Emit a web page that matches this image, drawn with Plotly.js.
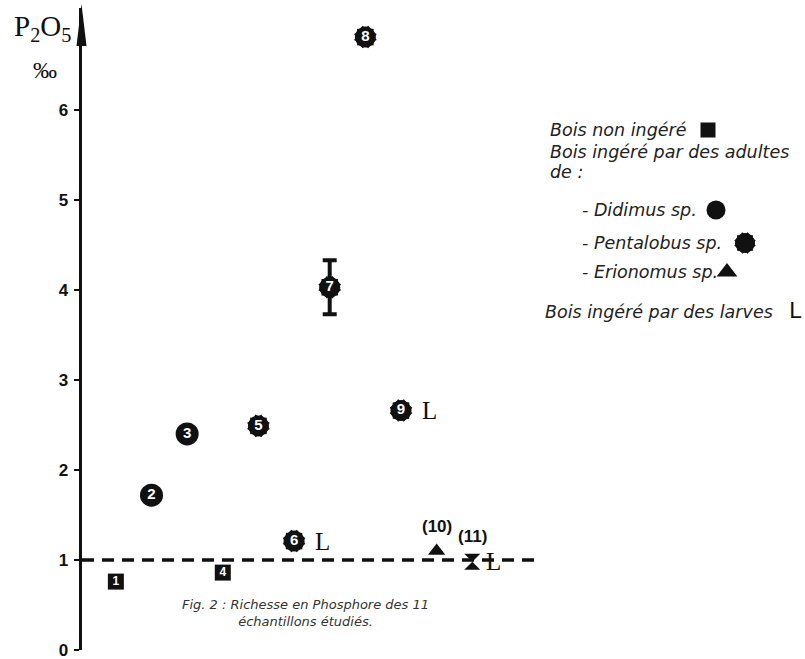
<!DOCTYPE html>
<html><head><meta charset="utf-8">
<script src="https://cdn.plot.ly/plotly-3.0.1.min.js"></script>
<style>html,body{margin:0;padding:0;background:#fff}</style>
</head><body><div id="chart" style="width:805px;height:659px"></div>
<script>
// ---- data ----
const samples = [1,2,3,4,5,6,7,8,9,10,11];
const p2o5 = [0.76,1.72,2.40,0.86,2.49,1.21,4.03,6.81,2.66,1.10,0.98];
const sampleGroup = ['bois','didimus','didimus','bois','pentalobus','pentalobus','pentalobus','pentalobus','pentalobus','erionomus','erionomus'];
const larvalSample = [false,false,false,false,false,true,false,false,true,false,true];
const errorPlusMinus = [0,0,0,0,0,0,0.30,0,0,0,0];
const sampleLabels = ['1','2','3','4','5','6','7','8','9','(10)','(11)'];
const yTicks = [0,1,2,3,4,5,6];
const referenceLevel = 1;
const legendText = ['Bois non ingéré','Bois ingéré par des adultes','de :','- Didimus sp.','- Pentalobus sp.','- Erionomus sp.','Bois ingéré par des larves'];
const legendKeyGroup = ['bois',null,null,'didimus','pentalobus','erionomus','larve'];
const captionText = 'Fig. 2 : Richesse en Phosphore des 11<br>échantillons étudiés.';

// ---- layout constants ----
const W = 805, H = 659;
const plotL = 82, plotR = 540, plotT = 8, plotB = 650;
const xRange = [0.05, 12.9], yRange = [0, 7.133];
const ink = '#111';
const handFont = 'DejaVu Sans, sans-serif';
const legendRowY = [130, 152, 172, 210, 243, 272, 312];
const legendTextX = [548, 548, 548, 580, 580, 580, 543];
const legendKeyX = [708, null, null, 716, 745, 727, 795];

const ids = f => samples.map((s,i)=>i).filter(f);
const pick = (arr, ii) => ii.map(i=>arr[i]);

function gear(xs, ys, xa, ya, k, extra) {
  const base = {type:'scatter', mode:'markers', x:xs, y:ys, xaxis:xa, yaxis:ya, hoverinfo:'skip', showlegend:false, cliponaxis:false};
  const t = [Object.assign({}, base, {marker:{symbol:'circle', size:21*k, color:ink, line:{width:0}}}, extra||{})];
  [0,30,60].forEach(a => t.push(Object.assign({}, base, {marker:{symbol:'square', size:16.5*k, angle:a, color:ink, line:{width:0}}})));
  return t;
}
function simple(xs, ys, xa, ya, symbol, size) {
  return {type:'scatter', mode:'markers', x:xs, y:ys, xaxis:xa, yaxis:ya, hoverinfo:'skip', showlegend:false, cliponaxis:false,
    marker:{symbol:symbol, size:size, color:ink, line:{width:0}}};
}

const traces = [];
const iBois = ids(i=>sampleGroup[i]==='bois');
const iDid = ids(i=>sampleGroup[i]==='didimus');
const iPen = ids(i=>sampleGroup[i]==='pentalobus');
const iEriA = ids(i=>sampleGroup[i]==='erionomus' && !larvalSample[i]);
const iEriL = ids(i=>sampleGroup[i]==='erionomus' && larvalSample[i]);

traces.push(simple(pick(samples,iBois), pick(p2o5,iBois), 'x', 'y', 'square', 16));
traces.push(simple(pick(samples,iDid), pick(p2o5,iDid), 'x', 'y', 'circle', 23));
traces.push(...gear(pick(samples,iPen), pick(p2o5,iPen), 'x', 'y', 1,
  {error_y:{type:'data', symmetric:true, array:pick(errorPlusMinus,iPen), visible:true, color:ink, thickness:4, width:7}}));
traces.push(simple(pick(samples,iEriA), pick(p2o5,iEriA), 'x', 'y', 'triangle-up', 15));
traces.push(simple(pick(samples,iEriL), pick(p2o5,iEriL), 'x', 'y', 'hourglass', 16));

// numbers inside markers
const iIn = ids(i=>!sampleLabels[i].startsWith('('));
traces.push({type:'scatter', mode:'text', x:pick(samples,iIn), y:pick(p2o5,iIn), text:pick(sampleLabels,iIn),
  textposition:'middle center', cliponaxis:false, hoverinfo:'skip', showlegend:false,
  textfont:{family:'Liberation Sans, Arial, sans-serif', color:'#fff', weight:'bold', size:iIn.map(i=>sampleGroup[i]==='bois'?12:15)}});

// legend
const annotations = [];
legendText.forEach((t,r) => {
  annotations.push({xref:'x2', yref:'y2', x:legendTextX[r], y:legendRowY[r], xanchor:'left', yanchor:'middle', showarrow:false,
    text:'<i>'+t+'</i>', font:{family:handFont, size:17.5, color:'#222'}});
  const g = legendKeyGroup[r];
  if (g==='bois') traces.push(simple([legendKeyX[r]],[legendRowY[r]],'x2','y2','square',15));
  if (g==='didimus') traces.push(simple([legendKeyX[r]],[legendRowY[r]],'x2','y2','circle',19));
  if (g==='pentalobus') traces.push(...gear([legendKeyX[r]],[legendRowY[r]],'x2','y2',0.95));
  if (g==='erionomus') traces.push(simple([legendKeyX[r]],[legendRowY[r]],'x2','y2','triangle-up',18));
  if (g==='larve') annotations.push({xref:'x2', yref:'y2', x:legendKeyX[r], y:legendRowY[r]-2, showarrow:false, text:'L',
    font:{family:'DejaVu Sans, sans-serif', size:22, color:ink}});
});

// L for larval samples, parenthesised labels
samples.forEach((s,i) => {
  if (larvalSample[i]) annotations.push({x:s, y:p2o5[i], xref:'x', yref:'y', showarrow:false, text:'L', xanchor:'center',
    xshift: sampleGroup[i]==='pentalobus' ? 28 : 21, yshift:0, font:{family:'Liberation Serif, serif', size:25, color:ink}});
  if (sampleLabels[i].startsWith('(')) annotations.push({x:s, y:p2o5[i], xref:'x', yref:'y', showarrow:false, text:'<b>'+sampleLabels[i]+'</b>',
    yshift:25, font:{family:'Liberation Sans Narrow, Liberation Sans, Arial, sans-serif', size:17, color:ink}});
});

// axis title and caption
annotations.push({xref:'x2', yref:'y2', x:42, y:28, showarrow:false, text:'P<sub>2</sub>O<sub>5</sub>', font:{family:'Liberation Serif, serif', size:29, color:ink}});
annotations.push({xref:'x2', yref:'y2', x:45, y:70, showarrow:false, text:'‰', font:{family:'Liberation Serif, serif', size:24, color:ink}});
annotations.push({xref:'x2', yref:'y2', x:305, y:613, showarrow:false, text:'<i>'+captionText+'</i>', align:'center',
  font:{family:handFont, size:13, color:'#333'}});

const shapes = [
  {type:'line', xref:'x', yref:'y', x0:xRange[0], x1:xRange[1], y0:referenceLevel, y1:referenceLevel, line:{color:ink, width:3.5, dash:'12px,8px'}},
  {type:'path', xref:'x2', yref:'y2', path:'M 76.5,46 L 81.5,4 L 86.5,46 Z', fillcolor:ink, line:{width:0}}
];

const layout = {
  width:W, height:H, margin:{l:0,r:0,t:0,b:0}, paper_bgcolor:'#fff', plot_bgcolor:'rgba(0,0,0,0)', showlegend:false,
  xaxis:{domain:[plotL/W, plotR/W], range:xRange, visible:false, fixedrange:true},
  yaxis:{domain:[(H-plotB)/H, (H-plotT)/H], range:yRange, tickvals:yTicks, ticks:'outside', ticklen:5, tickwidth:2, tickcolor:ink,
    showline:true, linewidth:3.5, linecolor:ink, showgrid:false, zeroline:false, ticklabelstandoff:2, ticklabeloverflow:'allow',
    tickfont:{family:'Liberation Sans, Arial, sans-serif', size:17, weight:'bold', color:ink}, fixedrange:true},
  xaxis2:{domain:[0,1], range:[0,W], visible:false, anchor:'y2', fixedrange:true},
  yaxis2:{domain:[0,1], range:[H,0], visible:false, anchor:'x2', fixedrange:true},
  annotations:annotations, shapes:shapes
};
Plotly.newPlot('chart', traces, layout, {displayModeBar:false, staticPlot:true});
</script></body></html>
